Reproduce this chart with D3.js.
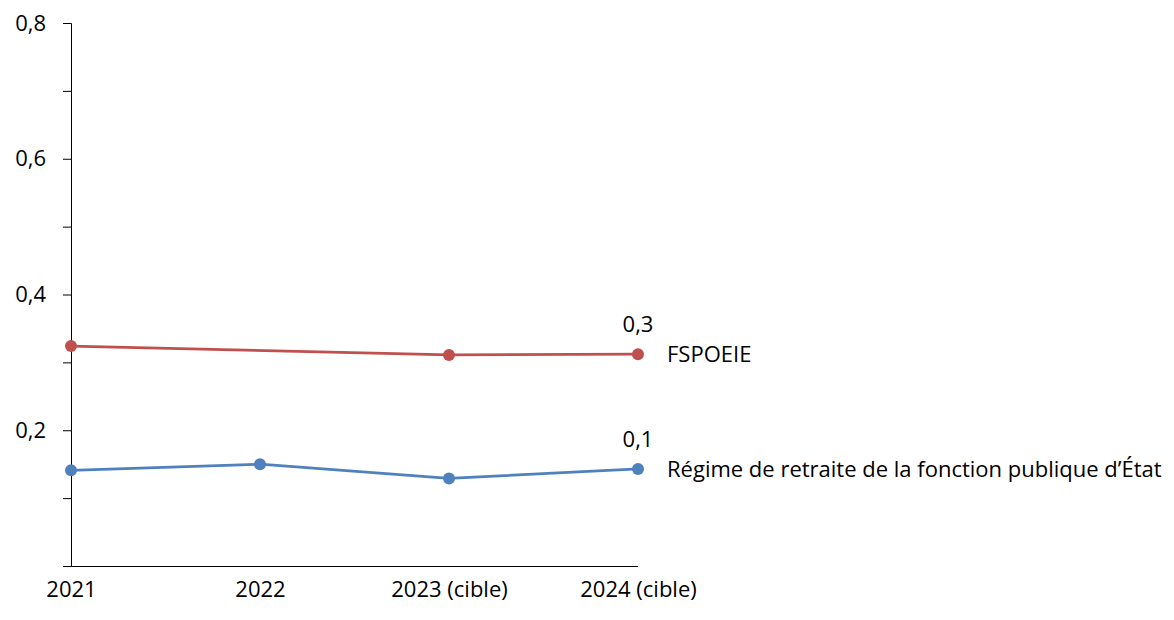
<!DOCTYPE html>
<html><head><meta charset="utf-8">
<script src="https://cdn.jsdelivr.net/npm/d3@7"></script>
<style>body{margin:0;background:#fff}svg{display:block}text{font-family:"Open Sans","Noto Sans",sans-serif;fill:#000}</style>
</head><body><svg id="c" width="1174" height="620"></svg>
<script>
const categories = ["2021", "2022", "2023 (cible)", "2024 (cible)"];
const fspoeie = [0.324, null, 0.311, 0.312];
const fpe = [0.141, 0.150, 0.129, 0.143];
const seriesNames = ["FSPOEIE", "Régime de retraite de la fonction publique d’État"];
const yTicks = [0.2, 0.4, 0.6, 0.8];
const yMinorTicks = [0.1, 0.3, 0.5, 0.7];
const FS = 22;

const svg = d3.select("#c");
const x = d3.scalePoint().domain(categories).range([71, 638]);
const y = d3.scaleLinear().domain([0, 0.8]).range([566, 23]);
const fmt = v => d3.format(".1f")(v).replace(".", ",");

// y axis
const ya = svg.append("g").attr("transform", "translate(71,0)");
ya.call(d3.axisLeft(y).tickValues(yTicks).tickSize(8).tickFormat(fmt));
ya.append("g").call(d3.axisLeft(y).tickValues(yMinorTicks).tickSize(8).tickFormat(""));
ya.selectAll("path.domain").attr("stroke", "#000").attr("stroke-width", 1);
ya.selectAll("line").attr("stroke", "#000");
ya.selectAll(".tick text").attr("x", -25).attr("font-size", FS).style("font-family", "Open Sans");
ya.selectAll("g g path.domain").remove();

// x axis
const xa = svg.append("g").attr("transform", "translate(0,566)");
xa.call(d3.axisBottom(x).tickSize(0).tickPadding(13));
xa.select("path.domain").attr("d", "M63,0.5H638").attr("stroke", "#000");
xa.selectAll(".tick text").attr("font-size", FS).attr("dy", "0.8em").style("font-family", "Open Sans");

const series = [
  {name: seriesNames[0], values: fspoeie, color: "#C0504D"},
  {name: seriesNames[1], values: fpe, color: "#4F81BD"}
];
const line = d3.line().x(d => x(d.c)).y(d => y(d.v));
series.forEach(s => {
  const pts = categories.map((c, i) => ({c, v: s.values[i]})).filter(d => d.v != null);
  svg.append("path").attr("d", line(pts)).attr("fill", "none").attr("stroke", s.color).attr("stroke-width", 2.75);
  svg.selectAll(null).data(pts).enter().append("circle")
    .attr("cx", d => x(d.c)).attr("cy", d => y(d.v)).attr("r", 6).attr("fill", s.color);
  const last = pts[pts.length - 1];
  svg.append("text").attr("x", x(last.c)).attr("y", y(last.v) - 22).attr("text-anchor", "middle")
    .attr("font-size", FS).text(fmt(last.v));
  svg.append("text").attr("x", 667).attr("y", y(last.v)).attr("dy", "0.35em")
    .attr("font-size", FS).text(s.name);
});
</script></body></html>
